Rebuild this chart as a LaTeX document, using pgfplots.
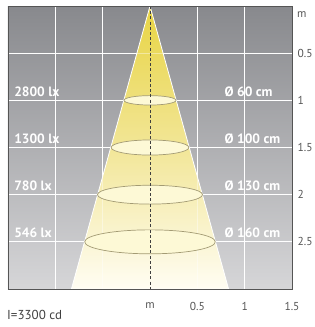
\documentclass[border=0pt]{standalone}
\usepackage{pgfplots}
\pgfplotsset{compat=1.18}
\usepackage{fontspec}
\setmainfont{PT Sans}
\definecolor{bgtop}{HTML}{88898D}
\definecolor{bgbot}{HTML}{D6D6D8}
\definecolor{conetop}{HTML}{E8D443}
\definecolor{conemid}{HTML}{F2E697}
\definecolor{conebot}{HTML}{FFFDF3}
\definecolor{ellfill}{HTML}{FDF9D6}
\definecolor{elldraw}{HTML}{A39B74}
\definecolor{ticktext}{HTML}{555555}
\definecolor{frame}{HTML}{555555}
\begin{document}
\begin{tikzpicture}
\useasboundingbox (-8pt,-38pt) rectangle (306pt,289pt);
\begin{axis}[
  at={(0pt,0pt)}, anchor=south west,
  width=284pt, height=283pt, scale only axis,
  xmin=-1.5, xmax=1.5, ymin=0, ymax=3, y dir=reverse,
  axis background/.style={shade, top color=bgtop, bottom color=bgbot},
  axis line style={frame, line width=0.8pt},
  grid=major, grid style={white, line width=0.8pt},
  major tick length=0pt,
  xtick={-1,-0.5,0,0.5,1,1.5},
  xticklabels={,,m,0.5,1,1.5},
  ytick={0.5,1,1.5,2,2.5},
  yticklabels={0.5,1,1.5,2,2.5},
  yticklabel pos=right,
  /pgf/number format/assume math mode=true,
  tick label style={color=ticktext, font=\fontsize{11.5}{13}\selectfont},
  xticklabel style={yshift=-10pt},
  yticklabel style={anchor=west, xshift=2pt},
  clip=false,
]
% cone
\addplot[draw=white, line width=0.8pt, top color=conetop, bottom color=conebot, middle color=conemid]
  coordinates {(0,0) (0.83,3) (-0.83,3) (0,0)};
% faint grid over cone
\addplot[white, opacity=0.4, line width=0.8pt] coordinates {(-0.5,0) (-0.5,3)};
\addplot[white, opacity=0.4, line width=0.8pt] coordinates {(0.5,0) (0.5,3)};
\addplot[white, opacity=0.4, line width=0.8pt] coordinates {(-1.5,0.5) (1.5,0.5)};
\addplot[white, opacity=0.4, line width=0.8pt] coordinates {(-1.5,1) (1.5,1)};
\addplot[white, opacity=0.4, line width=0.8pt] coordinates {(-1.5,1.5) (1.5,1.5)};
\addplot[white, opacity=0.4, line width=0.8pt] coordinates {(-1.5,2) (1.5,2)};
\addplot[white, opacity=0.4, line width=0.8pt] coordinates {(-1.5,2.5) (1.5,2.5)};
% light circles
\draw[fill=ellfill, draw=elldraw, line width=0.7pt] (axis cs:0,1) ellipse [x radius=0.275, y radius=0.05];
\draw[fill=ellfill, draw=elldraw, line width=0.7pt] (axis cs:0,1.5) ellipse [x radius=0.41, y radius=0.08];
\draw[fill=ellfill, draw=elldraw, line width=0.7pt] (axis cs:0,2) ellipse [x radius=0.555, y radius=0.10];
\draw[fill=ellfill, draw=elldraw, line width=0.7pt] (axis cs:0,2.5) ellipse [x radius=0.69, y radius=0.127];
% centre line
\addplot[color=black!75, line width=0.7pt, dash pattern=on 3pt off 2.2pt] coordinates {(0,0) (0,3)};
% frame on top
\draw[frame, line width=0.8pt] (rel axis cs:0,0) rectangle (rel axis cs:1,1);
% labels
\begin{scope}[every node/.style={text=white, font=\fontsize{13.5}{15}\selectfont\bfseries, inner sep=0pt}]
\node[anchor=base west] at (axis cs:-1.436,1) [yshift=4pt] {2800 lx};
\node[anchor=base west] at (axis cs:-1.436,1.5) [yshift=4pt] {1300 lx};
\node[anchor=base west] at (axis cs:-1.436,2) [yshift=4pt] {780 lx};
\node[anchor=base west] at (axis cs:-1.436,2.5) [yshift=4pt] {546 lx};
\node[anchor=base west] at (axis cs:0.787,1) [yshift=4pt] {Ø 60 cm};
\node[anchor=base west] at (axis cs:0.787,1.5) [yshift=4pt] {Ø 100 cm};
\node[anchor=base west] at (axis cs:0.787,2) [yshift=4pt] {Ø 130 cm};
\node[anchor=base west] at (axis cs:0.787,2.5) [yshift=4pt] {Ø 160 cm};
\end{scope}
\node[anchor=west, text=ticktext, font=\fontsize{11.5}{13}\selectfont, inner sep=0pt] at (axis cs:1.5,0.095) [xshift=5pt] {m};
\node[anchor=west, text=black!75, font=\fontsize{13}{15}\selectfont, inner sep=0pt] at (rel axis cs:0,0) [xshift=-1pt, yshift=-26pt] {I=3300 cd};
\end{axis}
\end{tikzpicture}
\end{document}
